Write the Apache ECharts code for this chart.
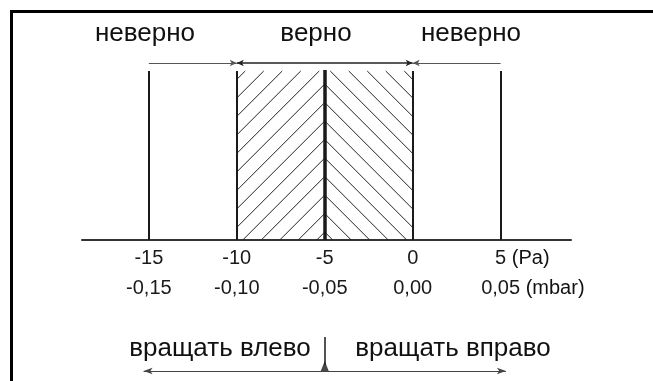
<!DOCTYPE html>
<html>
<head>
<meta charset="utf-8">
<style>
  html, body { margin: 0; padding: 0; background: #fff; overflow: hidden; }
  #wrap { position: relative; width: 653px; height: 381px; overflow: hidden; }
  #frame { position: absolute; left: 10px; top: 10px; width: 650px; height: 380px; border-left: 3px solid #000; border-top: 3px solid #000; box-sizing: border-box; }
  #chart { position: absolute; left: 0; top: 0; width: 653px; height: 381px; }
</style>
<script src="https://cdn.jsdelivr.net/npm/echarts@6/dist/echarts.min.js"></script>
</head>
<body>
<div id="wrap"><div id="frame"></div><div id="chart"></div></div>
<script>
// ticks of the pressure axis, Pa and the same values in mbar
const paTicks = [-15, -10, -5, 0, 5];
const paLabels = ['-15', '-10', '-5', '0', '5'];
const mbarLabels = ['-0,15', '-0,10', '-0,05', '0,00', '0,05'];
const paUnit = ' (Pa)';
const mbarUnit = ' (mbar)';

// limit lines, good zone and its centre
const outerLimits = [-15, 5];
const okZone = [-10, 0];
const target = -5;

const zoneLabels = ['неверно', 'верно', 'неверно'];
const turnLabels = ['вращать влево', 'вращать вправо'];

const FONT = '"Liberation Sans", Arial, Helvetica, sans-serif';
const INK = '#1a1a1a';

// vertical layout in y axis units (axis line sits at 0), text spots in px
const L = {
  zoneTop: 1.69,
  targetTop: 1.70,
  arrowRow: 1.77,
  turnRow: -1.31,
  turnTickTop: -0.97,
  turnTickBottom: -1.25,
  turnSpan: 10.3,
  hatchGap: 18.5,
  hatchLift: 8,
  zoneTextX: [145, 316, 471],
  zoneTextY: 34,
  turnTextX: [220, 453],
  turnTextY: 349,
  paRowY: 258,
  mbarRowY: 288
};

function textWidth(str, size) {
  const ctx = document.createElement('canvas').getContext('2d');
  ctx.font = size + 'px ' + FONT;
  return ctx.measureText(str).width;
}

function clipY(xa, ya, xb, yb, top, bottom) {
  const dy = yb - ya;
  let t0 = (top - ya) / dy, t1 = (bottom - ya) / dy;
  if (t0 > t1) { const t = t0; t0 = t1; t1 = t; }
  t0 = Math.max(0, t0);
  t1 = Math.min(1, t1);
  if (t1 <= t0) return null;
  return [xa + (xb - xa) * t0, ya + dy * t0, xa + (xb - xa) * t1, ya + dy * t1];
}

// diagonal hatching, both halves meet on the centre line
function renderHatch(params, api) {
  const x0 = api.value(0), x1 = api.value(1), side = api.value(2);
  const bl = api.coord([x0, 0]);
  const tr = api.coord([x1, L.zoneTop]);
  const apexX = api.coord([target, 0])[0];
  const left = bl[0], right = tr[0], bottom = bl[1], top = tr[1];
  const lines = [];
  for (let k = 0; k < 30; k++) {
    const yk = bottom - L.hatchLift - k * L.hatchGap;
    const seg = clipY(left, yk + side * (left - apexX), right, yk + side * (right - apexX), top, bottom);
    if (seg) {
      lines.push({
        type: 'line',
        shape: { x1: seg[0], y1: seg[1], x2: seg[2], y2: seg[3] },
        style: { stroke: '#222', lineWidth: 1 }
      });
    }
  }
  return { type: 'group', children: lines };
}

function vline(x, y0, y1, width) {
  return [{ coord: [x, y0], lineStyle: { width: width, color: INK, type: 'solid' } }, { coord: [x, y1] }];
}

function arrow(x0, x1, y, s0, s1, width, color, size) {
  return [
    { coord: [x0, y], symbol: s0, symbolSize: size, lineStyle: { width: width, color: color, type: 'solid' } },
    { coord: [x1, y], symbol: s1, symbolSize: size }
  ];
}

function textEl(t, x, y, size, align) {
  return {
    type: 'text',
    style: { text: t, x: x, y: y, align: align, verticalAlign: 'middle', font: size + 'px ' + FONT, fill: '#111' }
  };
}

const markBase = {
  silent: true,
  animation: false,
  symbol: ['none', 'none'],
  label: { show: false },
  emphasis: { disabled: true },
  lineStyle: { type: 'solid', color: INK, width: 1 }
};

const chart = echarts.init(document.getElementById('chart'), null, { renderer: 'canvas' });

const tickFont = 20;

chart.setOption({
  animation: false,
  grid: [
    { left: 82, right: 82, top: 0, height: 240, outerBoundsMode: 'none' },
    { left: 82, right: 82, top: 240, height: 141, outerBoundsMode: 'none' }
  ],
  xAxis: [
    {
      type: 'value',
      gridIndex: 0,
      min: -18.8,
      max: 9,
      splitLine: { show: false },
      axisTick: { show: false },
      axisLine: { onZero: false, lineStyle: { color: '#333', width: 2 } },
      axisLabel: {
        customValues: paTicks,
        margin: 3,
        formatter: function (v) {
          const i = paTicks.indexOf(v);
          if (i < 0) return '';
          return '{a|' + paLabels[i] + '}\n{b|' + mbarLabels[i] + '}';
        },
        rich: {
          a: { fontSize: tickFont, fontFamily: FONT, color: INK, lineHeight: 30 },
          b: { fontSize: tickFont, fontFamily: FONT, color: INK, lineHeight: 30 }
        }
      }
    },
    { type: 'value', gridIndex: 1, min: -18.8, max: 9, show: false }
  ],
  yAxis: [
    { type: 'value', gridIndex: 0, min: 0, max: 2.4, show: false, splitLine: { show: false } },
    { type: 'value', gridIndex: 1, min: -1.41, max: 0, show: false, splitLine: { show: false } }
  ],
  series: [
    {
      type: 'custom',
      name: 'hatch',
      xAxisIndex: 0,
      yAxisIndex: 0,
      renderItem: renderHatch,
      clip: false,
      silent: true,
      encode: { x: [0, 1] },
      data: [[okZone[0], target, -1], [target, okZone[1], 1]],
      markLine: Object.assign({}, markBase, {
        data: [
          vline(outerLimits[0], 0, L.zoneTop, 2),
          vline(outerLimits[1], 0, L.zoneTop, 2),
          vline(okZone[0], 0, L.zoneTop, 2),
          vline(okZone[1], 0, L.zoneTop, 2),
          vline(target, 0, L.targetTop, 3.5),
          arrow(outerLimits[0], okZone[0], L.arrowRow, 'none', 'arrow', 1, '#555', [5, 7]),
          arrow(okZone[0], okZone[1], L.arrowRow, 'arrow', 'arrow', 1.5, '#222', [5, 7]),
          arrow(outerLimits[1], okZone[1], L.arrowRow, 'none', 'arrow', 1, '#555', [5, 7])
        ]
      })
    },
    {
      type: 'scatter',
      name: 'pointer',
      xAxisIndex: 1,
      yAxisIndex: 1,
      silent: true,
      clip: false,
      symbol: 'triangle',
      symbolSize: [8, 10],
      symbolOffset: [0, -5],
      itemStyle: { color: INK },
      data: [[target, L.turnRow]],
      markLine: Object.assign({}, markBase, {
        data: [
          vline(target, L.turnTickTop, L.turnTickBottom, 1.5),
          arrow(target - L.turnSpan, target + L.turnSpan, L.turnRow, 'arrow', 'arrow', 1, '#444', [5, 9])
        ]
      })
    }
  ]
});

// units follow the last tick label
const last = paTicks.length - 1;
const lastX = chart.convertToPixel({ xAxisIndex: 0 }, paTicks[last]);
const graphics = zoneLabels.map(function (t, i) { return textEl(t, L.zoneTextX[i], L.zoneTextY, 26, 'center'); })
  .concat(turnLabels.map(function (t, i) { return textEl(t, L.turnTextX[i], L.turnTextY, 26, 'center'); }))
  .concat([
    textEl(paUnit, lastX + textWidth(paLabels[last], tickFont) / 2, L.paRowY, tickFont, 'left'),
    textEl(mbarUnit, lastX + textWidth(mbarLabels[last], tickFont) / 2, L.mbarRowY, tickFont, 'left')
  ]);
chart.setOption({ graphic: graphics });
</script>
</body>
</html>
